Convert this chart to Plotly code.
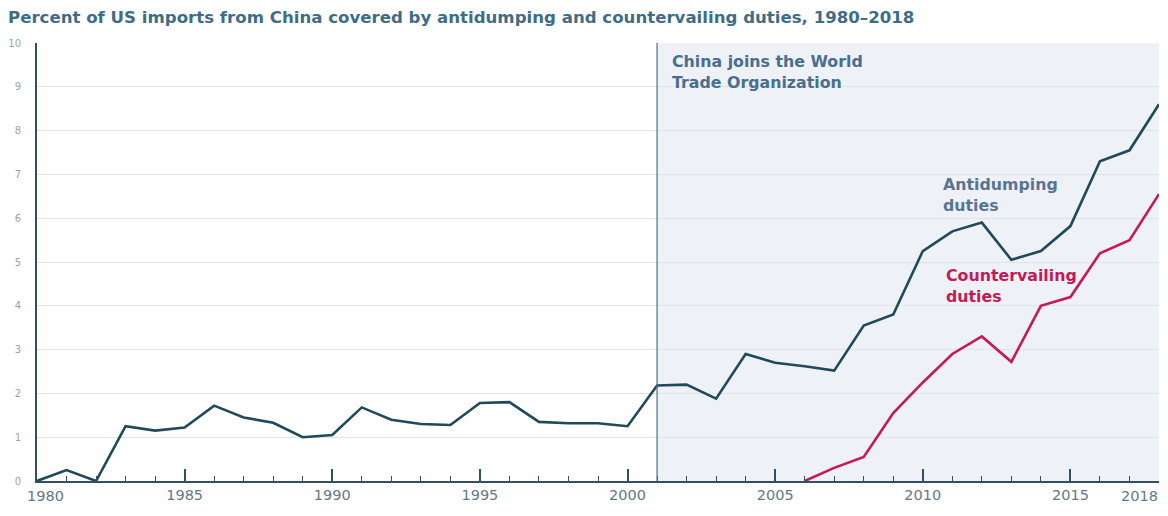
import plotly.graph_objects as go

years = list(range(1980, 2019))
antidumping = [0, 0.25, 0, 1.25, 1.15, 1.22, 1.72, 1.45, 1.33, 1.0,
               1.05, 1.68, 1.4, 1.3, 1.28, 1.78, 1.8, 1.35, 1.32, 1.32,
               1.25, 2.18, 2.2, 1.88, 2.9, 2.7, 2.62, 2.52, 3.55, 3.8,
               5.25, 5.7, 5.9, 5.05, 5.25, 5.82, 7.3, 7.55, 8.6]
cv_years = list(range(2006, 2019))
countervailing = [0, 0.3, 0.55, 1.55, 2.25, 2.9, 3.3, 2.72, 4.0, 4.2, 5.2, 5.5, 6.55]

x_tick_vals = [1980, 1985, 1990, 1995, 2000, 2005, 2010, 2015, 2018]
x_tick_text = ["1980", "1985", "1990", "1995", "2000", "2005", "2010", "2015", "2018"]
y_tick_vals = list(range(0, 11))

wto_year = 2001

navy = "#1f4a5a"
red = "#c41a58"
label_blue = "#4a6f8e"
axis_col = "#33505f"
tick_font_col = "#64788a"
font = "DejaVu Sans"

W, H = 1152, 500

fig = go.Figure()

# shaded WTO period
fig.add_shape(type="rect", xref="x", yref="y", x0=wto_year, x1=x_tick_vals[-1], y0=0, y1=10,
              fillcolor="#eef1f6", line_width=0, layer="below")
fig.add_shape(type="line", xref="x", yref="y", x0=wto_year, x1=wto_year, y0=0, y1=10,
              line=dict(color="#4f6f8c", width=1.2))

fig.add_trace(go.Scatter(x=years, y=antidumping, mode="lines",
                         line=dict(color=navy, width=2.6), cliponaxis=False,
                         name="Antidumping duties", showlegend=False))
fig.add_trace(go.Scatter(x=cv_years, y=countervailing, mode="lines",
                         line=dict(color=red, width=2.6), cliponaxis=False,
                         name="Countervailing duties", showlegend=False))

fig.add_annotation(x=wto_year + 0.45, y=9.33, xref="x", yref="y",
                   text="<b>China joins the World<br>Trade Organization</b>",
                   showarrow=False, xanchor="left", yanchor="middle", align="left",
                   font=dict(family=font, size=15.8, color=label_blue))
fig.add_annotation(x=2010.6, y=6.53, xref="x", yref="y",
                   text="<b>Antidumping<br>duties</b>",
                   showarrow=False, xanchor="left", yanchor="middle", align="left",
                   font=dict(family=font, size=15.8, color="#587593"))
fig.add_annotation(x=2010.72, y=4.46, xref="x", yref="y",
                   text="<b>Countervailing<br>duties</b>",
                   showarrow=False, xanchor="left", yanchor="middle", align="left",
                   font=dict(family=font, size=15.8, color=red))

# edge year labels placed so they stay inside the frame, like the original
fig.add_annotation(x=x_tick_vals[0], y=0, xref="x", yref="paper", text=x_tick_text[0],
                   showarrow=False, xanchor="center", yanchor="top", xshift=8, yshift=-5,
                   font=dict(family=font, size=14.5, color=tick_font_col))
fig.add_annotation(x=x_tick_vals[-1], y=0, xref="x", yref="paper", text=x_tick_text[-1],
                   showarrow=False, xanchor="right", yanchor="top", xshift=1, yshift=-5,
                   font=dict(family=font, size=14.5, color=tick_font_col))

fig.update_layout(
    width=W, height=H,
    margin=dict(l=29, r=1, t=35, b=27),
    paper_bgcolor="white", plot_bgcolor="white",
    title=dict(text="<b>Percent of US imports from China covered by antidumping and countervailing duties, 1980–2018</b>",
               x=0.0, xanchor="left", y=1 - 3 / H, yanchor="top", pad=dict(t=0, b=0, l=0, r=0),
               font=dict(family=font, size=16.6, color="#3f6d86")),
    showlegend=False,
)
fig.update_xaxes(range=[x_tick_vals[0], x_tick_vals[-1]], tickvals=x_tick_vals[1:-1], ticktext=x_tick_text[1:-1],
                 ticks="inside", ticklen=12, tickwidth=2, tickcolor=axis_col,
                 minor=dict(dtick=1, ticks="inside", ticklen=5, tickwidth=1, tickcolor=axis_col),
                 showgrid=False, zeroline=False, showline=True, linecolor=axis_col, linewidth=2,
                 tickfont=dict(family=font, size=14.5, color=tick_font_col), automargin=False)
fig.update_yaxes(range=[0, 10], tickvals=y_tick_vals, ticks="", showgrid=True,
                 gridcolor="#dfe4ea", gridwidth=1, zeroline=False,
                 showline=True, linecolor=axis_col, linewidth=2, automargin=False,
                 tickfont=dict(family=font, size=10, color="#9aa3aa"), ticklabelstandoff=12)

fig.write_html("out.html")
